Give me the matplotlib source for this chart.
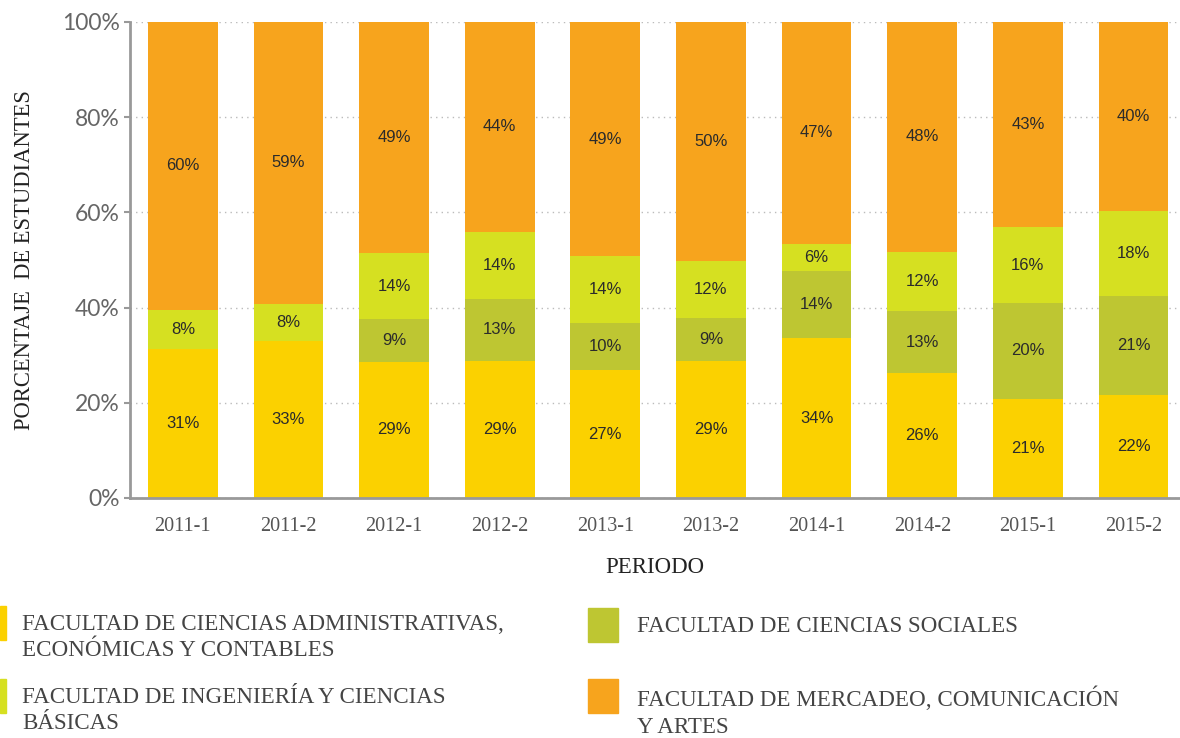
import numpy as np
import matplotlib
matplotlib.use('Agg')
import matplotlib.pyplot as plt
from matplotlib.patches import Rectangle

periodos = ['2011-1', '2011-2', '2012-1', '2012-2', '2013-1',
            '2013-2', '2014-1', '2014-2', '2015-1', '2015-2']

# share of students per faculty (%)
administrativas = [31.4, 33.0, 28.6, 28.8, 26.8, 28.8, 33.6, 26.2, 20.9, 21.6]
sociales = [0.0, 0.0, 9.0, 13.0, 10.0, 9.0, 14.0, 13.1, 20.0, 20.8]
ingenieria = [8.2, 7.8, 13.8, 14.1, 14.0, 12.0, 5.8, 12.4, 16.0, 17.9]
mercadeo = [60.4, 59.2, 48.6, 44.1, 49.2, 50.2, 46.6, 48.3, 43.1, 39.7]

series = [administrativas, sociales, ingenieria, mercadeo]
colors = ['#FBD100', '#BEC632', '#D6E021', '#F7A41D']
legend_labels = [
    'FACULTAD DE CIENCIAS ADMINISTRATIVAS,\nECONÓMICAS Y CONTABLES',
    'FACULTAD DE CIENCIAS SOCIALES',
    'FACULTAD DE INGENIERÍA Y CIENCIAS\nBÁSICAS',
    'FACULTAD DE MERCADEO, COMUNICACIÓN\nY ARTES',
]

W, H = 1180, 738
fig = plt.figure(figsize=(W / 100, H / 100), dpi=100)
ax = fig.add_axes([130 / W, (H - 498) / H, (W - 130) / W, 476 / H])

serif = ['Liberation Serif', 'DejaVu Serif']
narrow = ['Liberation Sans Narrow', 'Liberation Sans', 'DejaVu Sans']

x = np.arange(len(periodos))
bottom = np.zeros(len(periodos))
for vals, col in zip(series, colors):
    vals = np.array(vals)
    ax.bar(x, vals, 0.66, bottom=bottom, color=col, zorder=2)
    for xi, b, v in zip(x, bottom, vals):
        if v > 0:
            ax.text(xi, b + v / 2, f'{v:.0f}%', ha='center', va='center',
                    fontsize=12, color='#2b2b2b', family=narrow, zorder=3)
    bottom += vals

ax.set_xlim(-0.5, 9.44)
ax.set_ylim(0, 100)
ax.set_yticks([0, 20, 40, 60, 80, 100])
ax.set_yticklabels(['0%', '20%', '40%', '60%', '80%', '100%'],
                   fontsize=16.5, color='#666666', family=['Lato', 'DejaVu Sans'])
ax.set_xticks(x)
ax.set_xticklabels(periodos, fontsize=14.5, color='#555555', family=serif)
ax.tick_params(axis='y', length=4.5, width=1.5, color='#999999', pad=3)
ax.tick_params(axis='x', length=0, pad=14)
ax.grid(axis='y', linestyle=(0, (1, 3)), color='#bbbbbb', linewidth=1, zorder=0)

for s in ['top', 'right']:
    ax.spines[s].set_visible(False)
for s in ['left', 'bottom']:
    ax.spines[s].set_color('#999999')
    ax.spines[s].set_linewidth(2)

ax.set_xlabel('PERIODO', fontsize=16.5, color='#222222', family=serif, labelpad=15)
fig.text(25 / W, (H - 260) / H, 'PORCENTAJE  DE ESTUDIANTES', rotation=90,
         ha='center', va='center', fontsize=16.3, color='#222222', family=serif)

# legend, two columns
legend_pos = [(0, 22, 606), (588, 637, 608), (0, 22, 679), (588, 637, 679)]
for i, (sx, tx, ty) in enumerate(legend_pos):
    sw = 6 if sx == 0 else 30
    fig.add_artist(Rectangle((sx / W, (H - ty - 34) / H), sw / W, 34 / H,
                             transform=fig.transFigure, color=colors[i]))
    fig.text(tx / W, (H - ty - 8) / H, legend_labels[i], ha='left', va='top',
             fontsize=16.6, color='#444444', family=serif, linespacing=1.33)

fig.savefig('out.png', dpi=100)
